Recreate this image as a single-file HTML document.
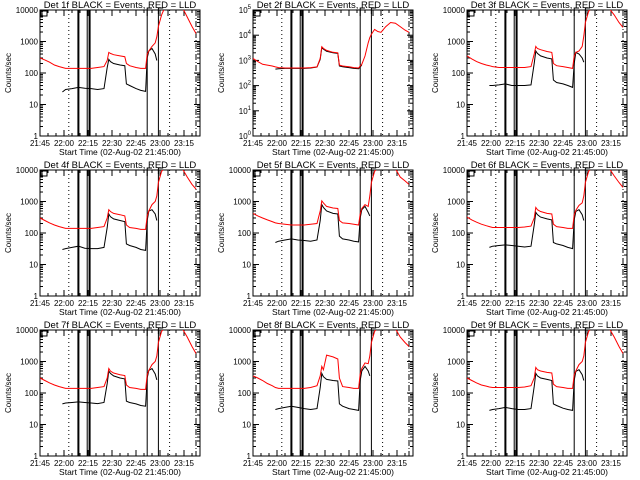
<!DOCTYPE html>
<html><head><meta charset="utf-8"><style>
body{margin:0;background:#fff;width:640px;height:480px;overflow:hidden}
svg{display:block}
text{font-family:"Liberation Sans",sans-serif;fill:#000}
</style></head><body>
<svg id="chart" width="640" height="480" viewBox="0 0 640 480" xmlns="http://www.w3.org/2000/svg"></svg>
<script>
// time in minutes after 21:45
const times=[0,3,6,9,12,14,16,20,24,28,32,36,40,42,43,44,46,50,53,54,56,60,63,66,67,68,70,72,73,74,76,78,80,83,86,89,92,95,97.5];
const tickLabels=["21:45","22:00","22:15","22:30","22:45","23:00","23:15"];
const tickMinutes=[0,15,30,45,60,75,90];
const vDotted=[18,81];
const vThick=[24,31];
const vThin=[29.5,67,74];
const vDashDot=[97.5];
const titles=["Det 1f","Det 2f","Det 3f","Det 4f","Det 5f","Det 6f","Det 7f","Det 8f","Det 9f"];
const N=null;
const red1=[300,260,220,180,160,150,140,140,140,140,140,150,160,250,450,420,380,350,330,200,170,150,140,140,400,500,700,900,1400,3000,7000,12000,13000,15000,15000,12000,6000,3000,1800];
const blk1=[N,N,N,N,N,25,30,32,35,33,32,30,32,150,270,230,200,180,170,45,40,32,28,26,300,500,600,400,250,N,N,N,N,N,N,N,N,N,N];
const red2=[1200,900,700,650,600,550,520,500,500,500,500,520,550,1200,3500,3000,2500,2100,2000,650,600,560,520,500,600,700,1500,5000,8000,11000,17000,14000,13000,22000,32000,30000,22000,16000,13000];
const blk2=[N,N,N,N,N,450,470,480,480,480,480,500,540,1100,3200,2800,2300,2000,1900,600,560,520,480,470,550,650,N,N,N,N,N,N,N,N,N,N,N,N,N];
const red3=[350,280,230,200,180,170,160,150,150,150,150,150,160,400,700,600,550,480,450,200,170,160,150,140,350,450,500,700,1500,4000,9000,12000,13000,15000,15000,11000,7000,4000,2800];
const blk3=[N,N,N,N,N,40,40,42,45,40,40,40,42,200,500,420,350,300,280,60,50,45,40,35,200,450,400,300,220,N,N,N,N,N,N,N,N,N,N];
const red4=[300,250,210,180,160,150,140,140,140,140,140,150,160,300,550,480,420,380,350,180,150,140,130,130,350,500,800,1000,1500,4000,9000,12000,13000,15000,15000,11000,6000,3500,2500];
const blk4=[N,N,N,N,N,30,32,35,38,33,32,32,35,150,400,330,280,250,230,45,40,35,30,28,250,500,550,400,250,N,N,N,N,N,N,N,N,N,N];
const red5=[420,350,300,260,230,210,200,190,180,180,180,190,200,500,1050,900,700,620,600,250,210,200,190,180,400,600,800,700,1500,4000,9000,12000,12000,15000,15000,11000,6000,4500,3500];
const blk5=[N,N,N,N,N,50,55,60,65,60,58,55,60,250,800,650,500,420,400,80,65,60,55,52,300,550,700,450,350,N,N,N,N,N,N,N,N,N,N];
const red6=[320,260,220,190,170,160,150,150,150,150,150,155,165,300,650,550,480,420,400,190,160,150,140,140,380,520,750,900,1500,4000,9000,12000,13000,15000,15000,11000,6500,4000,2800];
const blk6=[N,N,N,N,N,35,38,40,42,40,38,36,38,180,450,380,320,280,260,50,45,40,35,32,260,480,550,380,250,N,N,N,N,N,N,N,N,N,N];
const red7=[300,250,210,180,160,150,140,140,140,140,140,150,160,300,600,500,430,380,360,180,150,140,130,130,380,520,800,1000,1500,4000,9000,12000,13000,15000,15000,11000,6000,3000,1800];
const blk7=[N,N,N,N,N,45,48,50,52,50,48,46,50,200,500,420,350,300,280,55,50,45,40,38,300,520,600,400,260,N,N,N,N,N,N,N,N,N,N];
const red8=[350,300,250,200,170,150,140,140,140,140,140,150,170,350,700,550,1600,1400,1200,300,160,150,140,140,400,600,900,850,1500,4000,9000,12000,13000,15000,15000,11000,6000,4000,3000];
const blk8=[N,N,N,N,N,30,32,35,38,35,32,30,32,150,420,330,270,250,240,45,38,32,30,28,250,500,700,500,350,N,N,N,N,N,N,N,N,N,N];
const red9=[300,250,210,180,165,155,150,150,150,150,150,155,170,300,650,550,500,450,430,190,160,150,140,140,380,500,800,1000,1500,4000,9000,12000,13000,15000,15000,11000,6000,3000,1800];
const blk9=[N,N,N,N,N,28,30,32,35,32,30,30,32,160,420,350,300,270,250,45,40,33,30,28,250,480,550,380,250,N,N,N,N,N,N,N,N,N,N];
const reds=[red1,red2,red3,red4,red5,red6,red7,red8,red9];
const blks=[blk1,blk2,blk3,blk4,blk5,blk6,blk7,blk8,blk9];

const NS="http://www.w3.org/2000/svg";
const svg=document.getElementById('chart');
function mk(tag,attrs,parent){const e=document.createElementNS(NS,tag);for(const k in attrs)e.setAttribute(k,attrs[k]);(parent||svg).appendChild(e);return e;}

for(let p=0;p<9;p++){
  const col=p%3,row=Math.floor(p/3);
  const ox=[0,213,427][col],oy=row*160;
  const L=ox+40,R=ox+200,T=oy+10,B=oy+136;
  const dec=(p===1)?5:4;
  const xS=m=>L+(m/100)*(R-L);
  const yS=v=>B-(Math.log10(v)/dec)*(B-T);
  const g=mk('g',{});
  
  
  const defs=mk('clipPath',{id:'c'+p},g);
  mk('rect',{x:L,y:T,width:R-L,height:B-T},defs);
  const fr=mk('rect',{x:L,y:T,width:R-L,height:B-T,fill:'none',stroke:'#000','stroke-width':1},g);
  
  
  for(let d=0;d<=dec;d++){
    const y=yS(Math.pow(10,d));
    mk('line',{x1:L,x2:L+6,y1:y,y2:y,stroke:'#000'},g);
    mk('line',{x1:R,x2:R-6,y1:y,y2:y,stroke:'#000'},g);
    if(d<dec)for(let k=2;k<10;k++){const yy=yS(k*Math.pow(10,d));
      mk('line',{x1:L,x2:L+3,y1:yy,y2:yy,stroke:'#000'},g);mk('line',{x1:R,x2:R-3,y1:yy,y2:yy,stroke:'#000'},g);}
    const t=mk('text',{x:L-2,y:y+3,'font-size':8,'text-anchor':'end'},g);
    
    
    if(p===1){t.textContent='10';const s=mk('tspan',{dy:-4,'font-size':6},t);s.textContent=String(d);}
    else t.textContent=String(Math.pow(10,d));
  }
  for(let m=0;m<=100;m+=5){const x=xS(m);const big=(m%15===0);
    mk('line',{x1:x,x2:x,y1:B,y2:B-(big?6:3),stroke:'#000'},g);mk('line',{x1:x,x2:x,y1:T,y2:T+(big?6:3),stroke:'#000'},g);}
  tickMinutes.forEach((m,i)=>{const t=mk('text',{x:xS(m),y:B+10,'font-size':8,'text-anchor':'middle'},g);
    
    
    t.textContent=tickLabels[i];});
  const tt=mk('text',{x:(L+R)/2,y:T-2,'font-size':9.5,'text-anchor':'middle'},g);
  
  
  tt.textContent=titles[p]+' BLACK = Events, RED = LLD';
  const xl=mk('text',{x:(L+R)/2,y:B+19,'font-size':8.5,'text-anchor':'middle'},g);
  
  
  xl.textContent='Start Time (02-Aug-02 21:45:00)';
  const yl=mk('text',{x:0,y:0,'font-size':8,'text-anchor':'middle',transform:`translate(${ox+11},${(T+B)/2}) rotate(-90)`},g);
  
  
  yl.textContent='Counts/sec';
  const cg=mk('g',{'clip-path':`url(#c${p})`},g);
  vDotted.forEach(m=>mk('line',{x1:xS(m),x2:xS(m),y1:T,y2:B,stroke:'#000','stroke-dasharray':'1,3'},cg));
  vThick.forEach(m=>mk('line',{x1:xS(m),x2:xS(m),y1:T,y2:B,stroke:'#000','stroke-width':2},cg));
  vThin.forEach(m=>mk('line',{x1:xS(m),x2:xS(m),y1:T,y2:B,stroke:'#000','stroke-width':1},cg));
  vDashDot.forEach(m=>mk('line',{x1:xS(m),x2:xS(m),y1:T,y2:B,stroke:'#000','stroke-dasharray':'6,2,1,2'},cg));
  mk('rect',{x:L+1,y:T+1,width:6,height:5,fill:'none',stroke:'#000'},g);
  mk('path',{d:`M${xS(67)} ${T+6} V${T-2} H${xS(70)} M${xS(74)} ${T+4} V${T-2} H${xS(77)} M${xS(80)} ${T+6} V${T} H${xS(83)}`,fill:'none',stroke:'#000'},g);
  function line(arr,color,name){let d='';let pen=false;
    arr.forEach((v,i)=>{if(v===null){pen=false;return;}d+=(pen?'L':'M')+xS(times[i]).toFixed(1)+' '+yS(v).toFixed(1)+' ';pen=true;});
    const pth=mk('path',{d:d,fill:'none',stroke:color,'stroke-width':1},cg);
    
    }
  line(blks[p],'#000','events-line');
  line(reds[p],'#ff0000','lld-line');
}
</script>
</body></html>
